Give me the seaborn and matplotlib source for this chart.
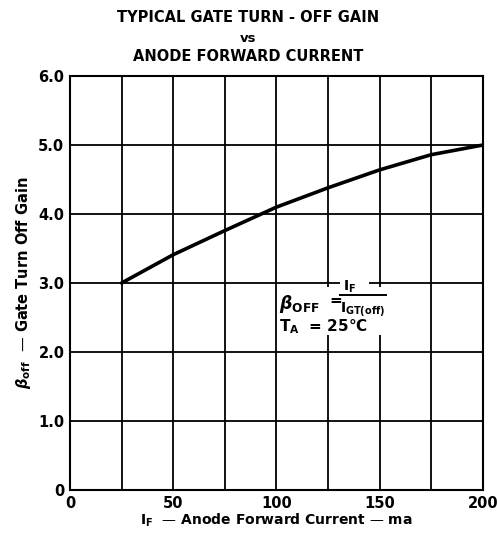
import numpy as np
import pandas as pd
import matplotlib
matplotlib.use("Agg")
import matplotlib.pyplot as plt
from matplotlib.patches import Rectangle
import seaborn as sns

# values
current_ma = [25, 50, 75, 100, 125, 150, 175, 200]
gain_off = [3.0, 3.41, 3.76, 4.10, 4.38, 4.64, 4.86, 5.0]

x_ticks = [0, 50, 100, 150, 200]
y_ticks = [0, 1, 2, 3, 4, 5, 6]
y_tick_labels = ["0", "1.0", "2.0", "3.0", "4.0", "5.0", "6.0"]

df = pd.DataFrame({"IF": current_ma, "beta": gain_off})

sns.set_style("white")
plt.rcParams["font.family"] = ["DejaVu Sans"]
plt.rcParams["mathtext.fontset"] = "dejavusans"
for key in ["text.color", "axes.labelcolor", "xtick.color", "ytick.color"]:
    plt.rcParams[key] = "black"

fig = plt.figure(figsize=(4.97, 5.33), dpi=100)
ax = fig.add_axes([0.1408, 0.0807, 0.8310, 0.7767])

sns.lineplot(data=df, x="IF", y="beta", ax=ax, color="black", linewidth=2.6)

ax.set_xlim(0, 200)
ax.set_ylim(0, 6)
ax.set_xticks(x_ticks)
ax.set_xticks(np.arange(0, 201, 25), minor=True)
ax.set_yticks(y_ticks)
ax.set_yticklabels(y_tick_labels)
ax.grid(True, which="both", color="black", linewidth=1.3)
ax.set_axisbelow(True)
ax.tick_params(which="both", length=0, labelsize=10.5, pad=4)
for lab in ax.get_xticklabels() + ax.get_yticklabels():
    lab.set_fontweight("bold")
for s in ax.spines.values():
    s.set_color("black")
    s.set_linewidth(1.5)

ax.set_xlabel(r"$\mathbf{I_F}$  — Anode Forward Current — ma", fontsize=10,
              fontweight="bold", labelpad=1)
ax.set_ylabel(r"$\boldsymbol{\beta}_{\mathbf{off}}$  — Gate Turn Off Gain", fontsize=10.5,
              fontweight="bold", labelpad=4)

fig.text(0.5, 0.967, "TYPICAL GATE TURN - OFF GAIN", ha="center", va="center",
         fontsize=10.5, fontweight="bold")
fig.text(0.5, 0.928, "vs", ha="center", va="center", fontsize=9.5, fontweight="bold")
fig.text(0.5, 0.894, "ANODE FORWARD CURRENT", ha="center", va="center",
         fontsize=10.5, fontweight="bold")

# annotation: beta_OFF = I_F / I_GT(off), T_A = 25 C
ax.add_patch(Rectangle((100.5, 2.24), 55, 0.70, facecolor="white", edgecolor="none", zorder=1.5))
ax.add_patch(Rectangle((131, 2.94), 14, 0.16, facecolor="white", edgecolor="none", zorder=1.5))
ax.text(101, 2.70, r"$\boldsymbol{\beta}_{\mathbf{OFF}}$", fontsize=12.5,
        va="center", ha="left", zorder=3)
ax.text(125.5, 2.75, "=", fontsize=11, fontweight="bold", va="center", ha="left", zorder=3)
ax.text(132, 2.95, r"$\mathbf{I_F}$", fontsize=10, va="center", ha="left", zorder=3)
ax.plot([130.5, 153.5], [2.82, 2.82], color="black", linewidth=1.4,
        solid_capstyle="butt", zorder=3)
ax.text(131, 2.62, r"$\mathbf{I_{GT(off)}}$", fontsize=10, va="center", ha="left", zorder=3)
ax.text(101, 2.37, r"$\mathbf{T_A}$  = 25°C", fontsize=11, fontweight="bold",
        va="center", ha="left", zorder=3)

fig.savefig("out.png", dpi=100, facecolor="white")
